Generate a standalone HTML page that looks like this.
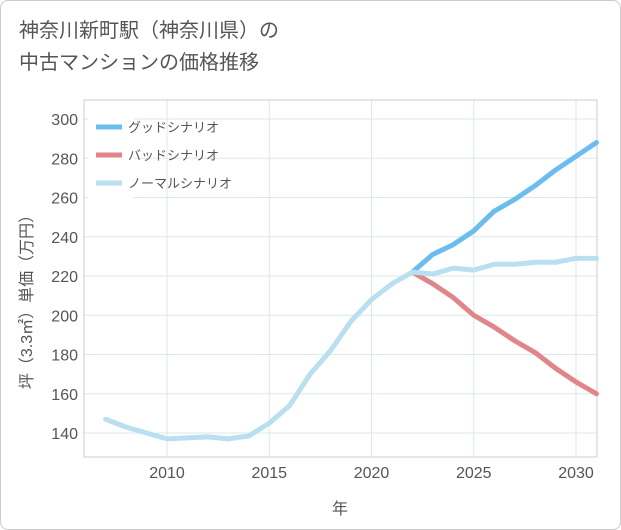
<!DOCTYPE html>
<html><head><meta charset="utf-8"><style>
body{margin:0;background:#fff;font-family:"Liberation Sans","Noto Sans CJK JP",sans-serif;}
#wrap{position:relative;width:619px;height:528px;border:1px solid #ccc;border-radius:8px;background:#fff;overflow:hidden}
h1{position:absolute;left:18px;top:14px;margin:0;font-weight:normal;font-size:20px;line-height:32px;color:#555;}
</style></head><body>
<div id="wrap">
<h1>神奈川新町駅（神奈川県）の<br>中古マンションの価格推移</h1>
<svg id="chart" width="621" height="530" style="position:absolute;left:-1px;top:-1px"></svg>
</div>
<script>
const years=[2007,2008,2009,2010,2011,2012,2013,2014,2015,2016,2017,2018,2019,2020,2021,2022,2023,2024,2025,2026,2027,2028,2029,2030,2031];
const normal=[147,143,140,137,137.5,138,137,138.5,145,154,170,182,197,208,216,222,221,224,223,226,226,227,227,229,229];
const fYears=[2022,2023,2024,2025,2026,2027,2028,2029,2030,2031];
const good=[222,231,236,243,253,259,266,274,281,288];
const bad=[222,216,209,200,194,187,181,173,166,160];
const xTicks=[2010,2015,2020,2025,2030];
const yTicks=[140,160,180,200,220,240,260,280,300];
const L=84,R=597,T=100,B=457;
const x=v=>167+(v-2010)*20.45;
const y=v=>433-(v-140)*1.9625;
const svg=document.getElementById('chart');
const NS='http://www.w3.org/2000/svg';
function mk(t,a,p){const e=document.createElementNS(NS,t);for(const k in a)e.setAttribute(k,a[k]);(p||svg).appendChild(e);return e;}
for(const t of yTicks){const l=mk('line',{x1:L,x2:R,y1:y(t),y2:y(t),stroke:'#dde8ee'});


const tx=mk('text',{x:78,y:y(t)+6,'text-anchor':'end','font-size':16,fill:'#555'});tx.textContent=t;

}
for(const t of xTicks){const l=mk('line',{x1:x(t),x2:x(t),y1:T,y2:B,stroke:'#dde8ee'});


const tx=mk('text',{x:x(t),y:478,'text-anchor':'middle','font-size':16,fill:'#555'});tx.textContent=t;

}
const fr=mk('rect',{x:L,y:T,width:R-L,height:B-T,fill:'none',stroke:'#ccc'});


function line(xs,ys,c,n){const p=mk('polyline',{points:xs.map((v,i)=>x(v)+','+y(ys[i])).join(' '),fill:'none',stroke:c,'stroke-width':5,'stroke-linejoin':'round','stroke-linecap':'round'});

}
line(fYears,good,'#6bbdf0','good-scenario-line');
line(fYears,bad,'#e0868b','bad-scenario-line');
line(years,normal,'#b9dff0','normal-scenario-line');
const lg=mk('rect',{x:88,y:110,width:46,height:90,fill:'#fff'});


const leg=[['グッドシナリオ','#6bbdf0'],['バッドシナリオ','#e0868b'],['ノーマルシナリオ','#b9dff0']];
leg.forEach((d,i)=>{const yy=127+i*28;
const l=mk('line',{x1:96,x2:122,y1:yy,y2:yy,stroke:d[1],'stroke-width':5});


const t=mk('text',{x:128,y:yy+5,'font-size':13,fill:'#555'});t.textContent=d[0];

});
const xt=mk('text',{x:340,y:514,'text-anchor':'middle','font-size':16,fill:'#555'});xt.textContent='年';


const yt=mk('text',{x:0,y:0,'text-anchor':'middle','font-size':16,fill:'#555',transform:'translate(32,298) rotate(-90)'});yt.textContent='坪（3.3㎡）単価（万円）';


</script>
</body></html>
